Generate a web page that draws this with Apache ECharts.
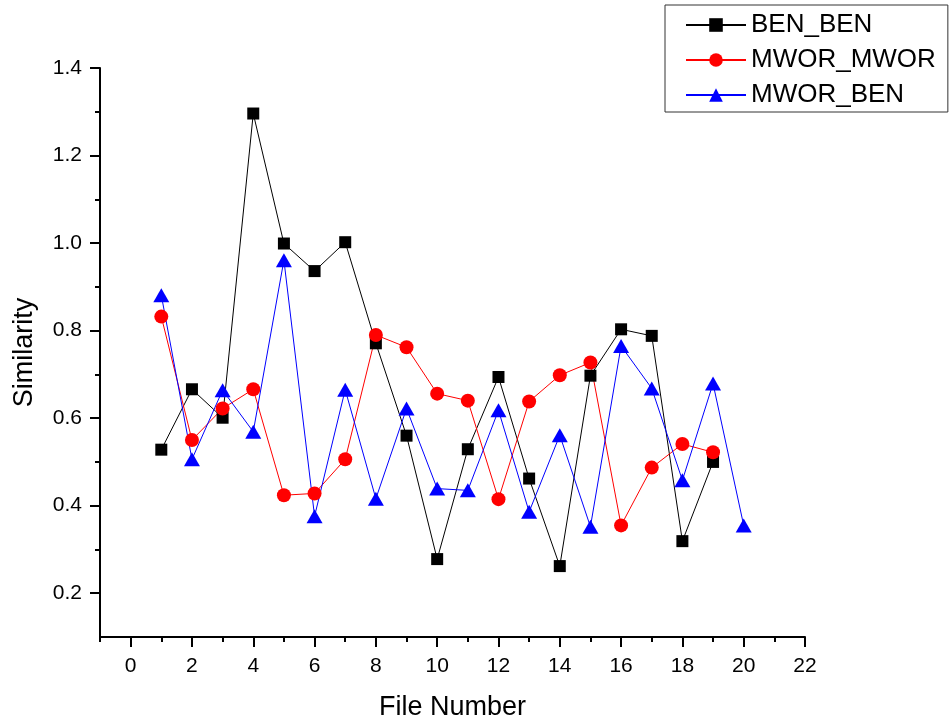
<!DOCTYPE html>
<html>
<head>
<meta charset="utf-8">
<script src="https://cdn.jsdelivr.net/npm/echarts@6/dist/echarts.min.js"></script>
<style>html,body{margin:0;padding:0;background:#fff}#c{width:952px;height:723px}</style>
</head>
<body>
<div id="c"></div>
<script>
const fileNumbers = [1,2,3,4,5,6,7,8,9,10,11,12,13,14,15,16,17,18,19,20];
const benBen = [0.528,0.666,0.601,1.296,0.999,0.936,1.002,0.771,0.560,0.278,0.529,0.694,0.462,0.262,0.697,0.803,0.788,0.319,0.500];
const mworMwor = [0.832,0.550,0.622,0.666,0.424,0.428,0.506,0.790,0.762,0.656,0.640,0.415,0.638,0.698,0.727,0.355,0.487,0.541,0.522];
const mworBen = [0.881,0.506,0.664,0.569,0.961,0.376,0.665,0.416,0.622,0.439,0.435,0.618,0.386,0.561,0.352,0.765,0.668,0.458,0.679,0.355];
const xMajorTicks = [0,2,4,6,8,10,12,14,16,18,20,22];
const xMinorTicks = [-1,1,3,5,7,9,11,13,15,17,19,21];
const yMajorTicks = [0.2,0.4,0.6,0.8,1.0,1.2,1.4];
const yMinorTicks = [0.3,0.5,0.7,0.9,1.1,1.3];

const FONT = 'Liberation Sans';
const pairs = (ys) => ys.map((v,i)=>[fileNumbers[i], v]);
const axisLine = {show:true, onZero:false, lineStyle:{color:'#000', width:2}};

const chart = echarts.init(document.getElementById('c'));
chart.setOption({
  animation:false,
  backgroundColor:'#fff',
  grid:{left:100, top:68, right:147, bottom:86, outerBoundsMode:'none', containLabel:false},
  legend:{
    left:665, top:5, orient:'vertical',
    borderColor:'#333', borderWidth:1, padding:[7,12,4,20],
    itemWidth:60, itemHeight:17, itemGap:9, textStyle:{fontFamily:FONT, fontSize:26, color:'#000', lineHeight:25},
    data:['BEN_BEN','MWOR_MWOR','MWOR_BEN']
  },
  xAxis:[{
    type:'value', min:-1, max:22, position:'bottom',
    name:'File Number', nameLocation:'middle', nameGap:57,
    nameTextStyle:{fontFamily:FONT, fontSize:27, color:'#000'},
    axisLine:axisLine,
    axisTick:{show:true, inside:false, length:10, customValues:xMajorTicks, lineStyle:{color:'#000', width:2}},
    axisLabel:{customValues:xMajorTicks, margin:19, fontFamily:FONT, fontSize:21, color:'#000'},
    splitLine:{show:false}
  },{
    type:'value', min:-1, max:22, position:'bottom',
    axisLine:{show:false, onZero:false},
    axisTick:{show:true, length:5, customValues:xMinorTicks, lineStyle:{color:'#000', width:2}},
    axisLabel:{show:false}, splitLine:{show:false}
  }],
  yAxis:[{
    type:'value', min:0.1, max:1.4, position:'left',
    name:'Similarity', nameLocation:'middle', nameGap:62,
    nameTextStyle:{fontFamily:FONT, fontSize:27, color:'#000'},
    axisLine:axisLine,
    axisTick:{show:true, length:10, customValues:yMajorTicks, lineStyle:{color:'#000', width:2}},
    axisLabel:{customValues:yMajorTicks, margin:18, fontFamily:FONT, fontSize:21, color:'#000', formatter:(v)=>v.toFixed(1)},
    splitLine:{show:false}
  },{
    type:'value', min:0.1, max:1.4, position:'left',
    axisLine:{show:false, onZero:false},
    axisTick:{show:true, length:5, customValues:yMinorTicks, lineStyle:{color:'#000', width:2}},
    axisLabel:{show:false}, splitLine:{show:false}
  }],
  series:[
    {name:'BEN_BEN', type:'line', data:pairs(benBen), symbol:'rect', symbolSize:12,
     itemStyle:{color:'#000'}, lineStyle:{color:'#000', width:1}},
    {name:'MWOR_MWOR', type:'line', data:pairs(mworMwor), symbol:'circle', symbolSize:14,
     itemStyle:{color:'#ff0000'}, lineStyle:{color:'#ff0000', width:1}},
    {name:'MWOR_BEN', type:'line', data:pairs(mworBen), symbol:'triangle', symbolSize:[16,14],
     itemStyle:{color:'#0000ff'}, lineStyle:{color:'#0000ff', width:1}}
  ]
});
</script>
</body>
</html>
